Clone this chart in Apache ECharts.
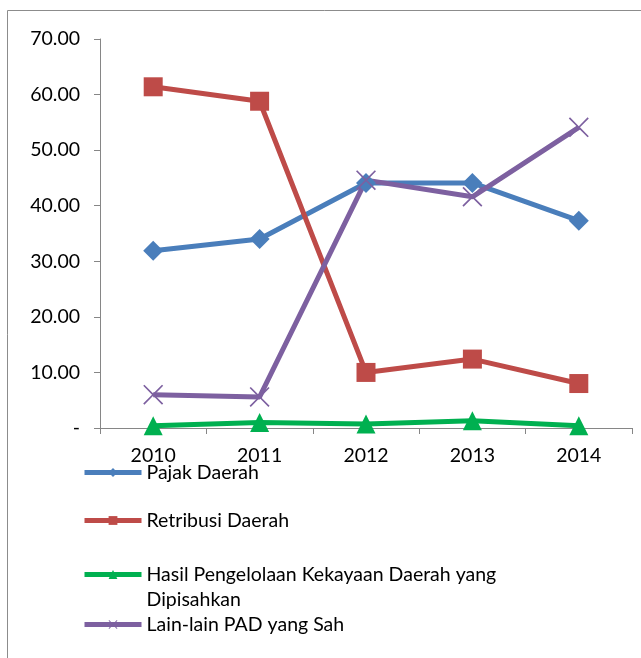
<!DOCTYPE html>
<html>
<head>
<meta charset="utf-8">
<script src="https://cdn.jsdelivr.net/npm/echarts@6/dist/echarts.min.js"></script>
<style>
html, body { margin: 0; padding: 0; background: #fff; }
#main { width: 641px; height: 658px; }
</style>
</head>
<body>
<div id="main"></div>
<script>
var years = ['2010', '2011', '2012', '2013', '2014'];
var pajakDaerah = [31.9, 34.0, 44.1, 44.1, 37.3];
var retribusiDaerah = [61.4, 58.8, 10.0, 12.4, 8.0];
var hasilPengelolaan = [0.4, 1.0, 0.7, 1.3, 0.4];
var lainLain = [6.0, 5.6, 44.6, 41.6, 54.1];
var seriesNames = [
    'Pajak Daerah',
    'Retribusi Daerah',
    'Hasil Pengelolaan Kekayaan Daerah yang Dipisahkan',
    'Lain-lain PAD yang Sah'
];

var font = 'Lato';
var crossPath = 'path://M0,1.2 L1.2,0 L10,8.8 L18.8,0 L20,1.2 L11.2,10 L20,18.8 L18.8,20 L10,11.2 L1.2,20 L0,18.8 L8.8,10 Z';

function lineSeries(name, data, color, symbol, size) {
    return {
        name: name,
        type: 'line',
        data: data,
        symbol: symbol,
        symbolSize: size,
        showSymbol: true,
        lineStyle: { color: color, width: 5 },
        itemStyle: { color: color },
        z: 2
    };
}

function legendFor(name, top, text) {
    return {
        data: [name],
        left: 82,
        top: top,
        itemWidth: 57,
        itemHeight: 11,
        itemGap: 2,
        padding: 0,
        lineStyle: { width: 5 },
        formatter: function () { return text; },
        textStyle: { fontFamily: font, fontSize: 19.5, color: '#000', lineHeight: 25 }
    };
}

var chart = echarts.init(document.getElementById('main'));
var option = {
    backgroundColor: '#fff',
    animation: false,
    graphic: [{
        type: 'rect',
        shape: { x: 7.5, y: 10.5, width: 700, height: 700 },
        style: { fill: 'none', stroke: '#8c8c8c', lineWidth: 1 },
        silent: true
    }],
    grid: { left: 100, right: 9, top: 39, bottom: 230 },
    legend: [
        legendFor(seriesNames[0], 460, 'Pajak Daerah'),
        legendFor(seriesNames[1], 508, 'Retribusi Daerah'),
        legendFor(seriesNames[2], 537, '\nHasil Pengelolaan Kekayaan Daerah yang\nDipisahkan'),
        legendFor(seriesNames[3], 612, 'Lain-lain PAD yang Sah')
    ],
    xAxis: {
        type: 'category',
        data: years,
        boundaryGap: true,
        axisLine: { lineStyle: { color: '#868686', width: 1 } },
        axisTick: { show: true, length: 6, lineStyle: { color: '#868686' } },
        axisLabel: { color: '#000', fontFamily: font, fontSize: 19.5, margin: 18 }
    },
    yAxis: {
        type: 'value',
        min: 0,
        max: 70,
        interval: 10,
        splitLine: { show: false },
        axisLine: { show: true, lineStyle: { color: '#868686', width: 1 } },
        axisTick: { show: true, length: 6, lineStyle: { color: '#868686' } },
        axisLabel: {
            color: '#000', fontFamily: font, fontSize: 19.5, margin: 20,
            formatter: function (v) { return v === 0 ? '-' : v.toFixed(2); }
        }
    },
    series: [
        lineSeries(seriesNames[0], pajakDaerah, '#4a7ebb', 'diamond', 20),
        lineSeries(seriesNames[1], retribusiDaerah, '#be4b48', 'rect', 19),
        lineSeries(seriesNames[2], hasilPengelolaan, '#00b050', 'triangle', 19),
        lineSeries(seriesNames[3], lainLain, '#7d60a0', crossPath, 20)
    ]
};
chart.setOption(option);
</script>
</body>
</html>
